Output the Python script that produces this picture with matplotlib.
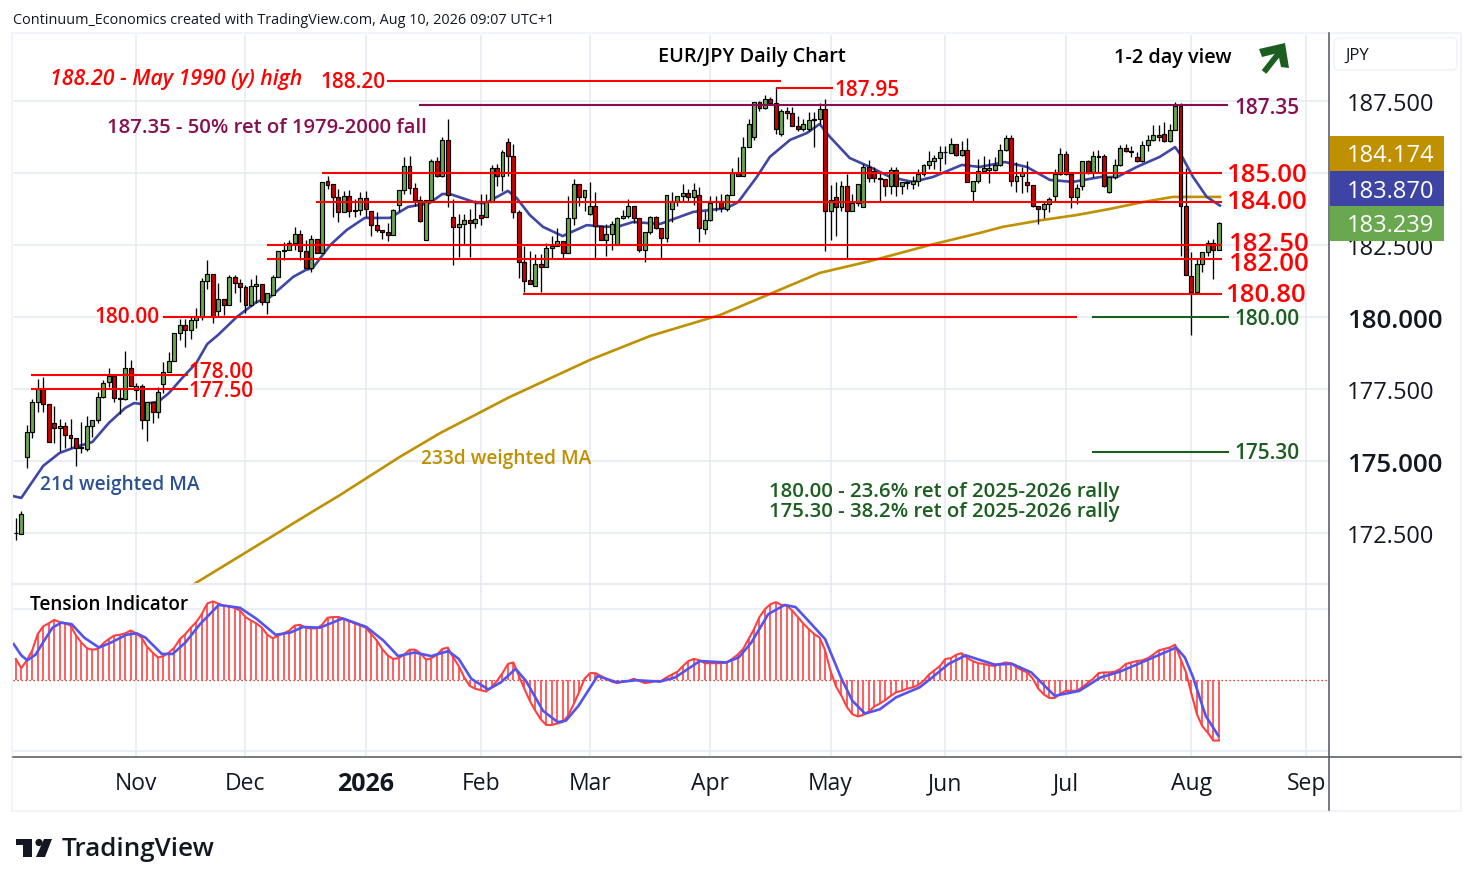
import numpy as np
import matplotlib
matplotlib.use('Agg')
import matplotlib.pyplot as plt
from matplotlib.patches import Rectangle, FancyBboxPatch, Polygon, Circle

plt.rcParams['font.family'] = ['Open Sans', 'DejaVu Sans']

# daily candles, first bar sits at index -1
opens = [172.49,172.45,175.15,175.99,177.04,177.5,176.97,176.31,176.13,176.2,175.89,175.79,175.46,175.43,176.2,176.41,
    177.21,177.73,177.96,177.18,177.14,178.22,177.47,177.62,176.42,177.06,176.69,177.66,178.1,178.48,179.43,179.71,
    179.54,179.9,180.0,181.24,181.48,180.22,180.64,180.41,181.38,181.17,181.03,180.41,181.06,181.13,180.53,180.75,
    181.4,182.3,182.34,182.56,182.87,182.3,181.69,182.7,182.21,184.71,
    184.61,184.16,183.63,184.19,183.69,183.73,184.12,183.69,183.21,183.03,182.96,182.86,183.9,184.42,185.23,184.47,
    184.07,182.69,184.07,185.41,184.88,186.13,183.46,183.11,183.23,183.36,183.25,183.53,183.46,184.0,185.16,184.91,
    186.06,185.6,183.63,181.9,181.27,181.08,181.83,181.72,182.38,182.45,182.65,182.21,183.43,184.61,184.16,183.56,
    183.84,183.15,182.69,182.87,182.5,183.43,183.5,183.84,183.43,182.31,182.96,183.46,
    183.08,182.73,183.74,184.04,184.19,184.29,184.16,184.22,183.07,183.36,183.99,184.03,183.75,184.25,185.0,184.88,
    185.89,186.26,187.45,187.25,187.56,187.42,186.34,187.14,187.07,186.62,186.54,186.54,186.83,186.86,187.21,183.69,
    184.16,183.81,184.56,183.67,183.95,183.81,185.2,185.08,184.81,184.79,184.54,185.12,184.56,184.67,184.63,184.71,
    184.95,185.27,185.41,185.51,185.72,185.69,186.0,185.61,185.79,184.39,184.71,
    185.08,185.12,185.12,185.29,185.79,186.2,184.73,184.88,184.68,184.57,183.84,183.74,183.94,184.19,184.95,185.65,
    184.95,184.16,184.54,185.41,185.02,185.56,185.58,184.33,184.85,185.27,185.88,185.78,185.54,185.43,185.97,186.13,
    186.33,186.34,186.1,186.5,187.31,183.87,181.41,180.86,181.83,182.25,182.56,182.34]
highs = [173.01,173.26,176.25,177.15,177.85,177.93,176.97,176.92,176.45,176.37,176.45,175.79,176.37,176.57,176.41,177.41,
    177.81,178.22,177.96,177.52,178.82,178.51,177.7,177.66,177.06,177.06,177.58,178.45,178.8,179.43,179.94,179.94,
    180.0,180.3,181.34,181.98,181.48,181.17,180.64,181.46,181.46,181.31,181.11,181.31,181.46,181.13,180.84,181.46,
    182.3,182.59,182.67,183.14,183.02,182.67,182.85,182.7,184.68,184.91,
    184.61,184.44,184.39,184.41,184.1,184.33,184.39,183.69,183.63,183.03,183.25,183.75,184.42,185.54,185.58,184.65,
    184.19,184.07,185.49,185.54,186.26,186.88,184.1,183.58,183.58,183.75,184.05,184.27,184.27,185.28,185.31,185.81,
    186.2,186.0,183.73,182.48,182.28,182.19,182.19,182.57,182.82,183.08,182.65,184.21,184.79,184.61,184.4,184.68,
    184.33,183.15,183.23,183.34,183.46,183.73,184.1,183.84,183.43,182.96,183.52,183.52,
    183.08,184.22,184.33,184.21,184.62,184.44,184.65,184.53,183.69,184.21,184.21,184.27,184.27,185.17,185.54,186.24,
    186.88,187.45,187.51,187.71,187.63,187.94,187.22,187.3,187.28,186.99,186.88,187.11,187.11,187.42,187.57,184.58,
    184.68,184.73,184.97,184.27,184.61,185.31,185.45,185.2,185.02,184.79,185.2,185.2,184.68,184.73,184.91,185.14,
    185.31,185.78,185.63,185.95,185.95,186.2,186.0,186.12,186.2,184.71,185.49,
    185.6,185.49,185.54,186.0,186.32,186.32,185.37,185.2,185.43,184.57,183.84,184.04,184.16,185.14,185.86,185.75,
    184.95,184.62,185.43,185.46,185.78,185.8,185.66,184.85,185.49,185.97,186.01,185.95,185.72,186.12,186.32,186.67,
    186.67,186.76,186.7,187.45,187.42,185.16,182.25,182.01,182.27,182.69,182.71,183.29]
lows = [172.26,172.45,174.75,175.79,176.71,176.71,175.67,175.64,175.36,175.44,175.44,174.83,175.29,175.36,175.85,176.31,
    177.18,177.58,177.06,176.63,177.12,177.62,177.12,176.1,175.71,176.31,176.48,177.35,178.1,178.48,179.2,178.97,
    179.24,179.61,179.9,180.96,179.78,180.0,180.07,180.41,180.82,180.53,180.13,180.38,180.47,180.4,180.1,180.75,
    181.4,181.98,182.34,182.33,181.98,181.69,181.57,182.21,182.21,184.44,
    183.46,183.31,183.63,183.46,183.46,183.54,183.46,182.82,182.96,182.71,182.65,182.86,183.69,184.27,184.27,183.87,
    183.29,182.69,184.04,184.85,184.85,183.81,181.82,182.09,182.53,182.09,183.08,183.21,183.46,184.0,184.56,184.39,
    184.88,183.44,181.34,180.86,181.16,181.08,180.88,181.72,182.04,182.45,182.04,182.21,183.19,183.87,183.69,183.54,
    182.04,182.69,182.13,182.34,182.5,183.4,183.43,183.25,182.25,181.9,182.88,183.05,
    182.05,182.59,183.29,183.87,183.98,183.98,183.89,182.62,182.88,183.34,183.69,183.63,183.69,184.25,184.88,184.88,
    185.89,186.15,187.17,187.22,187.4,186.35,186.27,186.88,186.62,186.47,186.47,186.47,185.91,186.7,182.3,182.69,
    182.8,183.69,182.05,183.67,183.87,183.81,184.68,184.68,184.04,184.19,184.27,184.21,184.27,184.44,184.44,184.56,
    184.9,185.14,185.14,185.08,185.31,185.69,185.58,185.58,184.68,184.04,184.65,
    185.0,184.65,185.08,185.25,185.78,184.56,184.33,184.31,184.33,183.81,183.23,183.43,183.63,184.04,184.93,184.93,
    183.77,183.92,184.42,184.97,184.85,185.02,184.5,184.31,184.79,185.23,185.72,185.54,185.39,185.39,185.78,186.11,
    186.12,186.06,186.06,186.5,182.13,181.47,179.39,180.86,181.57,182.13,181.32,182.34]
closes = [172.49,173.15,175.99,177.04,177.5,176.97,175.67,176.13,176.2,175.89,175.79,175.46,175.46,176.2,176.41,177.21,
    177.7,177.96,177.18,177.16,178.22,177.62,177.62,176.42,177.06,176.69,177.41,178.1,178.48,179.43,179.71,179.54,
    179.9,180.0,181.24,181.48,180.0,180.64,180.41,181.38,181.17,181.03,180.41,181.06,181.13,180.53,180.82,181.4,
    182.3,182.34,182.56,182.87,182.3,181.69,182.7,182.21,184.68,184.57,
    184.16,183.63,184.19,183.69,183.73,184.12,183.75,183.21,183.03,182.96,182.86,183.73,184.42,185.23,184.47,184.07,
    183.32,184.07,185.41,184.88,186.15,184.24,183.11,183.23,183.36,183.25,183.39,183.45,184.0,185.16,184.91,185.72,
    185.6,183.63,181.9,181.26,181.16,181.83,181.72,182.38,182.45,182.65,182.21,183.43,184.61,184.16,184.4,183.84,
    183.15,182.69,182.87,183.24,183.43,183.5,183.84,183.43,182.34,182.96,183.46,183.08,
    182.73,184.22,184.04,184.19,184.29,184.16,184.4,183.08,183.36,183.95,184.03,183.77,184.25,185.0,184.88,185.89,
    186.69,187.45,187.25,187.56,187.42,186.54,187.14,187.07,186.62,186.54,186.69,186.83,186.86,187.21,183.69,184.07,
    183.81,184.56,183.67,183.95,184.61,185.2,184.81,184.81,184.79,184.54,185.12,184.56,184.68,184.68,184.71,184.95,
    185.27,185.41,185.52,185.72,185.72,186.0,185.61,185.79,184.68,184.71,185.08,
    185.16,185.16,185.29,185.79,186.2,184.73,184.88,185.0,184.57,183.84,183.74,183.94,184.09,184.95,185.65,184.95,
    184.16,184.47,185.41,185.0,185.58,185.58,184.54,184.85,185.27,185.88,185.78,185.72,185.43,185.97,186.13,186.33,
    186.26,186.1,186.5,187.31,183.87,181.47,180.86,181.83,182.25,182.56,182.34,183.25]

# 21d weighted MA (bar, price)
ma21_bar = [-1.5,0,4,7,10,13,16,19,20.6,22,25,27,29.6,32,34,36,39.4,43,45.5,49.7,52,53.3,56.5,59.5,62.8,67.4,70.7,74.7,77,78.4,
    83.3,85,89,90.6,93,95.4,99,103.4,107,109.5,111.9,116.8,122.9,129,131.1,134.5,136.9,140.6,143.7,146,147.9,151.5,155.2,158.9,
    163,166.7,172,175.3,179.9,183.9,188.1,192.3,197.3,200.4,204,208.2,211,212.3,214.3,216.8,219.2]
ma21_val = [173.78,173.72,174.83,175.28,175.49,175.66,176.32,176.84,177.01,176.98,177.05,177.36,177.92,178.4,179.06,179.38,180.0,180.52,180.69,181.39,181.63,181.7,182.5,183.02,183.44,183.44,183.82,183.96,184.27,184.27,
    183.96,183.96,184.38,184.13,183.54,183.13,182.81,183.19,183.13,183.16,183.3,183.23,183.65,183.78,183.99,184.86,185.56,186.15,186.39,186.7,186.25,185.52,185.21,184.86,
    184.69,184.86,185.28,185.21,185.38,185.21,184.76,184.69,184.86,184.86,185.21,185.56,185.9,185.56,184.86,184.17,183.87]

# 233d weighted MA
ma233_bar = [30.5,42.4,52.8,58.3,69.2,76.6,89.3,104,115,127.8,136.9,146,155.2,166.2,175.3,179.5,186.8,193,199,205.1,210.6,214.3,219.2]
ma233_val = [170.6,171.98,173.19,173.82,175.14,175.97,177.22,178.51,179.34,180.07,180.8,181.53,181.94,182.5,182.92,183.13,183.37,183.54,183.75,183.99,184.17,184.17,184.17]

# Tension Indicator, one value per bar
tension = [0.29,0.16,0.27,0.41,0.64,0.75,0.79,0.84,0.81,0.79,0.76,0.62,0.52,0.44,0.42,0.43,0.51,0.57,0.62,0.63,0.65,
    0.69,0.65,0.59,0.46,0.38,0.31,0.33,0.38,0.45,0.57,0.64,0.73,0.81,0.92,1.07,1.10,1.07,1.04,1.03,1.01,0.97,
    0.88,0.83,0.79,0.73,0.63,0.58,0.62,0.65,0.69,0.76,0.77,0.73,0.72,0.72,0.77,0.87,0.88,0.88,0.85,0.82,0.79,
    0.76,0.73,0.64,0.55,0.43,0.34,0.29,0.30,0.35,0.42,0.42,0.37,0.28,0.30,0.35,0.43,0.45,0.31,0.19,0.03,-0.09,
    -0.13,-0.15,-0.17,-0.11,-0.02,0.09,0.22,0.24,0.05,-0.13,-0.30,-0.44,-0.56,-0.64,-0.64,-0.62,-0.60,-0.51,-0.35,-0.18,0.01,
    0.09,0.09,0.05,0.01,-0.03,-0.05,-0.03,-0.02,0.01,-0.02,-0.05,-0.04,-0.02,
    -0.02,0.03,0.07,0.11,0.19,0.26,0.29,0.27,0.23,0.23,0.23,0.23,0.24,0.29,0.35,0.43,0.57,0.71,0.88,0.99,1.06,1.09,1.05,1.04,
    0.97,0.88,0.79,0.71,0.64,0.59,0.41,0.12,-0.10,-0.23,-0.39,-0.49,-0.52,-0.50,-0.45,-0.38,-0.34,-0.29,-0.23,-0.18,-0.16,-0.13,
    -0.11,-0.08,-0.02,0.07,0.13,0.19,0.29,0.30,0.35,0.37,0.30,0.26,0.23,0.22,0.20,0.19,0.22,0.24,0.23,0.17,0.13,0.10,0.01,
    -0.13,-0.21,-0.26,-0.26,-0.20,-0.16,-0.16,-0.16,-0.11,-0.05,0.01,0.09,0.10,0.10,0.11,0.15,0.22,0.24,0.26,0.27,0.30,0.35,
    0.41,0.43,0.45,0.49,0.29,0.10,-0.20,-0.49,-0.66,-0.75,-0.86,-0.86]

signal_bar = [-1.4,0,1.1,2.6,4.2,5.7,7.3,9.2,11.5,14.2,16.4,19.2,21.1,22.7,25.7,27.7,30,32.7,36.1,40,43.1,46.5,49.2,51.5,54.6,58.8,63.1,66.2,68.9,71.9,75,78.1,80,82.3,85.4,87.7,90.4,92.3,95.4,98.1,99.6,101.9,105.4,108.9,112.4,116.8,
    119.6,124.1,128.9,131.2,133.5,136.6,139.6,141.6,143.9,147,150,152,154.3,157,160,164.3,166.6,169.6,172.7,178,181.2,184.7,189,193.5,197.4,200.9,205.8,211.2,212.8,214.3,216.6,218.9]
signal_val = [0.50,0.34,0.27,0.35,0.55,0.73,0.80,0.78,0.59,0.45,0.52,0.63,0.65,0.59,0.36,0.36,0.52,0.78,1.05,1.01,0.85,0.63,0.66,0.74,0.73,0.86,0.74,0.55,0.33,0.38,0.33,0.40,0.29,0.01,-0.14,-0.04,0.15,-0.02,-0.44,-0.60,-0.58,-0.37,0.05,-0.04,-0.01,-0.03,
    0.03,0.26,0.24,0.31,0.52,0.92,1.05,1.02,0.83,0.57,0.01,-0.30,-0.48,-0.42,-0.25,-0.11,0.03,0.22,0.34,0.21,0.22,0.10,-0.23,-0.16,0.03,0.11,0.27,0.45,0.31,0.03,-0.51,-0.79]

month_bars = [21,41,63,84,104,126,148,169,191,214,235]
month_labels = ['Nov','Dec','2026','Feb','Mar','Apr','May','Jun','Jul','Aug','Sep']
price_ticks = [172.5,175.0,177.5,180.0,182.5,185.0,187.5]
# 185.000 sits right under the price tags, so it stays blank
price_labels = ['172.500','175.000','177.500','180.000','182.500','','187.500']

W, H = 1474, 887
fig = plt.figure(figsize=(W/100, H/100), dpi=100, facecolor='white')

def pane(x0, y0, x1, y1):
    return fig.add_axes([x0/W, 1-y1/H, (x1-x0)/W, (y1-y0)/H])

# bar index <-> pixel: 21.3 + 5.468*i
xmin, xmax = (13-21.3)/5.468, (1329-21.3)/5.468
grid_col = '#e3ebf2'

# one pixel lower than the nominal 35..585 so the level lines land on the same rows
ax = pane(13, 36, 1329, 586)
ax.set_xlim(xmin, xmax)
ax.set_ylim(180+(317-585)/28.8, 180+(317-35)/28.8)
ind = pane(13, 585, 1329, 757)
ind.set_xlim(xmin, xmax)
ind.set_ylim((680.5-757)/71, (680.5-585)/71)

for a in (ax, ind):
    a.set_facecolor('none')
    for s in a.spines.values():
        s.set_visible(False)
    a.set_xticks(month_bars)
    a.grid(True, color=grid_col, lw=1.1)
    a.set_axisbelow(True)

ax.yaxis.tick_right()
ax.set_yticks(price_ticks)
ax.set_yticklabels(price_labels, fontsize=17, color='#131722')
ax.tick_params(axis='y', length=0, pad=13)
ax.tick_params(axis='x', length=0, labelbottom=False)
for lab in ax.get_yticklabels():
    if lab.get_text() in ('175.000', '180.000'):
        lab.set_fontweight('semibold')
        lab.set_fontsize(18.6)

ind.set_yticks([-1, 1])
ind.tick_params(axis='y', length=0, labelleft=False)
ind.set_xticklabels(month_labels, fontsize=16.5, color='#131722')
ind.tick_params(axis='x', length=0, pad=11)
ind.get_xticklabels()[2].set_fontweight('bold')
ind.get_xticklabels()[2].set_fontsize(18)

# moving averages under the candles
ax.plot(ma233_bar, ma233_val, color='#bf9000', lw=1.9, zorder=2)
ax.plot(ma21_bar, ma21_val, color='#3f47a5', lw=1.9, zorder=2)

# candles
bars = np.arange(-1, len(opens)-1)
o, h, l, c = map(np.array, (opens, highs, lows, closes))
ax.vlines(bars, l, h, color='black', lw=0.95, zorder=3)
cols = np.where(c >= o, '#6aa84f', '#cc0000')
ax.bar(bars, np.maximum(np.abs(c-o), 0.02), bottom=np.minimum(o, c), width=0.72, color=cols,
       edgecolor='black', lw=0.85, zorder=4)

# level lines
red = '#ff0000'
purple = '#880e4f'
dgreen = '#1b5e20'
ax.hlines(188.2, 66.9, 138.9, color=red, lw=1.5, zorder=5)
ax.hlines(187.95, 138, 148.4, color=red, lw=1.5, zorder=5)
ax.hlines(187.35, 72.7, 220.7, color=purple, lw=1.5, zorder=5)
ax.hlines([185.0, 184.0], [55, 53.9], 219.6, color=red, lw=1.5, zorder=5)
ax.hlines([182.5, 182.0], 44.9, 219.6, color=red, lw=1.5, zorder=5)
ax.hlines(180.8, 91.75, 219.6, color=red, lw=1.5, zorder=5)
ax.hlines(180.0, 25.9, 193, color=red, lw=1.5, zorder=5)
ax.hlines([178.0, 177.5], 1.8, 30.5, color=red, lw=1.5, zorder=5)
ax.hlines([180.0, 175.3], 195.8, 220.9, color=dgreen, lw=1.5, zorder=5)

# indicator
ind.hlines(0, xmin, xmax, color='#e00000', lw=0.9, linestyles=(0, (1, 2.2)), zorder=2)
ind.vlines(bars, 0, tension, color='#ff5252', lw=1.3, zorder=3)
ind.plot(bars, tension, color='#ff4040', lw=1.5, zorder=4)
ind.plot(signal_bar, signal_val, color='#5353f0', lw=1.9, zorder=5)

# overlay in pixel coordinates for the frame, tags and notes
ov = fig.add_axes([0, 0, 1, 1], facecolor='none')
ov.set_xlim(0, W)
ov.set_ylim(H, 0)
ov.axis('off')

ov.add_patch(Rectangle((12, 34), 1449.5, 778, fill=False, ec='#f0f3fa', lw=1.4))
ov.plot([13, 1329], [585, 585], color='#e6e9f0', lw=1.2)
ov.plot([13, 1461], [757.5, 757.5], color='#50535e', lw=1.1)
ov.plot([1329.5, 1329.5], [34, 811], color='#50535e', lw=1.1)
ov.add_patch(FancyBboxPatch((1334, 39), 123, 32, boxstyle='round,pad=0,rounding_size=5', fc='white', ec='#f0f3fa', lw=1.2))
ov.text(1345, 56, 'JPY', fontsize=12, color='#131722', va='center')

for y0, col, txt in [(137, '#bf9000', '184.174'), (172, '#3d44a3', '183.870'), (207, '#6aa84f', '183.239')]:
    ov.add_patch(Rectangle((1330, y0), 114, 35, fc=col, ec='none', zorder=6))
    ov.text(1347, y0+19.5, txt, fontsize=17, color='white', va='center', zorder=7)

def note(x, y, s, col, size, ha='left', **kw):
    ov.text(x, y+2, s, color=col, fontsize=size, ha=ha, va='center', **kw)

note(13, 19, 'Continuum_Economics created with TradingView.com, Aug 10, 2026 09:07 UTC+1', '#131722', 10.4)
note(658, 55, 'EUR/JPY Daily Chart', 'black', 14.3, weight='semibold')
note(1114, 56, '1-2 day view', 'black', 14.35, weight='semibold')
note(50, 77, '188.20 - May 1990 (y) high', red, 15.3, style='italic', weight='semibold')
note(320, 81, '188.20', red, 15, weight='semibold')
note(834, 88, '187.95', red, 15, weight='semibold')
note(107, 126, '187.35 - 50% ret of 1979-2000 fall', purple, 14.6, weight='semibold')
note(1234, 106, '187.35', purple, 15, weight='semibold')
for yy, s, xx in [(173, '185.00', 1226), (201, '184.00', 1226), (243, '182.50', 1228), (263, '182.00', 1228), (294, '180.80', 1225)]:
    note(xx, yy, s, red, 18.5, weight='semibold')
note(94, 316, '180.00', red, 15, weight='semibold')
note(188, 371, '178.00', red, 15, weight='semibold')
note(188, 390, '177.50', red, 15, weight='semibold')
note(1234, 318, '180.00', dgreen, 15, weight='semibold')
note(1234, 452, '175.30', dgreen, 15, weight='semibold')
note(40, 483, '21d weighted MA', '#2a5290', 13.75, weight='semibold')
note(421, 457, '233d weighted MA', '#bf9000', 13.75, weight='semibold')
note(769, 490, '180.00 - 23.6% ret of 2025-2026 rally', dgreen, 14.65, weight='semibold')
note(769, 510, '175.30 - 38.2% ret of 2025-2026 rally', dgreen, 14.65, weight='semibold')
note(30, 603, 'Tension Indicator', 'black', 13.7, weight='semibold')

# up arrow
ov.plot([1264, 1283], [73, 49], color=dgreen, lw=4.2, solid_capstyle='butt')
ov.add_patch(Polygon([(1259, 50), (1285, 44), (1289, 69), (1281, 68), (1278, 54), (1262, 58)], fc=dgreen, ec='none'))

# TradingView logo
logo = '#131722'
ov.add_patch(Polygon([(16, 840), (32, 840), (32, 858), (23, 858), (23, 846), (16, 846)], fc=logo, ec='none'))
ov.add_patch(Circle((39, 843.5), 3.6, fc=logo, ec='none'))
ov.add_patch(Polygon([(44, 840), (52, 840), (45, 858), (36, 858)], fc=logo, ec='none'))
note(62, 848, 'TradingView', logo, 18.7, weight='semibold')

fig.savefig('out.png', dpi=100, facecolor='white')
